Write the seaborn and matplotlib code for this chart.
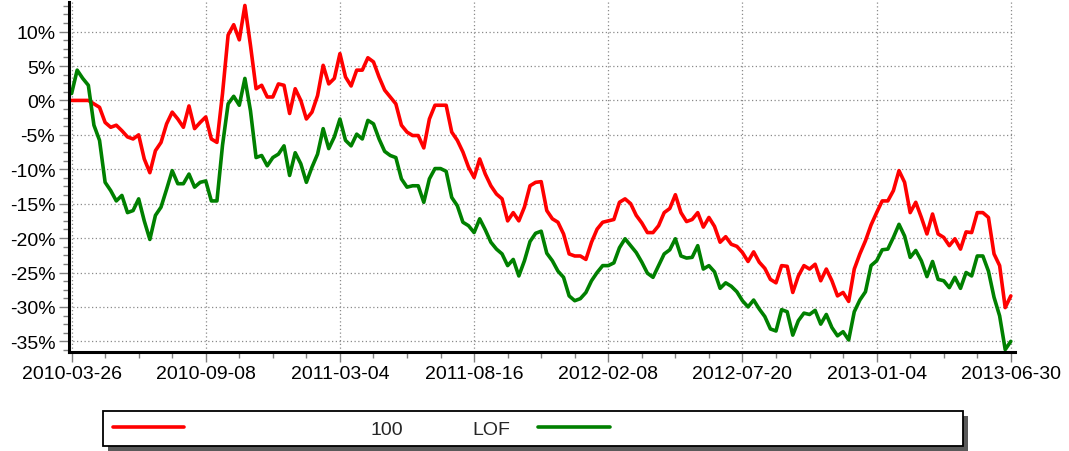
import matplotlib
matplotlib.use("Agg")
import matplotlib.pyplot as plt
import seaborn as sns
import pandas as pd
from matplotlib.patches import Rectangle
from matplotlib.ticker import MultipleLocator, FuncFormatter

# Datumetiketter, en var 24:e punkt
tick_labels = ["2010-03-26", "2010-09-08", "2011-03-04", "2011-08-16",
               "2012-02-08", "2012-07-20", "2013-01-04", "2013-06-30"]
step = 24

# Avkastning i procent
red_100 = [
    0, 0, 0, 0, -0.5, -1.0, -3.2, -3.9, -3.6, -4.4,
    -5.3, -5.6, -5.0, -8.5, -10.5, -7.3, -6.1, -3.4, -1.7, -2.7,
    -3.9, -0.8, -4.1, -3.2, -2.4, -5.6, -6.1, 1.0, 9.5, 11.0,
    8.8, 13.8, 8.0, 1.7, 2.2, 0.5, 0.5, 2.4, 2.2, -1.9,
    1.7, 0.0, -2.7, -1.7, 0.7, 5.1, 2.4, 3.2, 6.8, 3.4,
    2.1, 4.4, 4.4, 6.2, 5.6, 3.4, 1.5, 0.5, -0.5, -3.6,
    -4.6, -5.1, -5.1, -6.9, -2.7, -0.7, -0.7, -0.7, -4.6, -5.8,
    -7.5, -9.7, -11.2, -8.5, -10.7, -12.4, -13.6, -14.3, -17.5, -16.3,
    -17.5, -15.5, -12.4, -11.9, -11.8, -16.0, -17.2, -17.7, -19.4, -22.3,
    -22.6, -22.6, -23.1, -20.6, -18.7, -17.7, -17.5, -17.3, -14.8, -14.3,
    -15.0, -16.7, -17.8, -19.2, -19.2, -18.2, -16.3, -15.7, -13.7, -16.3,
    -17.6, -17.3, -16.3, -18.4, -17.0, -18.3, -20.6, -19.8, -20.9, -21.2,
    -22.1, -23.4, -22.0, -23.5, -24.4, -26.0, -26.5, -24.0, -24.1, -27.9,
    -25.5, -24.0, -24.5, -23.8, -26.2, -24.5, -26.2, -28.4, -27.9, -29.2,
    -24.5, -22.3, -20.4, -18.1, -16.3, -14.6, -14.6, -13.1, -10.2, -11.9,
    -16.3, -14.8, -17.0, -19.4, -16.5, -19.4, -19.9, -21.1, -20.1, -21.6,
    -19.1, -19.2, -16.3, -16.3, -17.0, -22.3, -24.0, -30.1, -28.4,
]

green_lof = [
    1.0, 4.4, 3.2, 2.2, -3.6, -5.8, -11.9, -13.1, -14.6, -13.8,
    -16.3, -16.0, -14.3, -17.5, -20.2, -16.7, -15.5, -12.9, -10.2, -12.1,
    -12.1, -10.7, -12.6, -11.9, -11.7, -14.6, -14.6, -6.5, -0.5, 0.6,
    -0.7, 3.2, -1.5, -8.3, -8.0, -9.5, -8.3, -7.8, -6.6, -10.9,
    -7.6, -9.2, -11.9, -9.7, -7.8, -4.1, -7.0, -5.3, -2.7, -5.8,
    -6.6, -4.9, -5.6, -2.9, -3.4, -5.6, -7.4, -8.0, -8.3, -11.4,
    -12.6, -12.4, -12.4, -14.8, -11.4, -9.9, -9.9, -10.3, -14.1, -15.3,
    -17.7, -18.2, -19.2, -17.2, -18.8, -20.6, -21.6, -22.3, -24.0, -23.1,
    -25.5, -23.3, -20.5, -19.3, -19.0, -22.2, -23.3, -24.8, -25.7, -28.4,
    -29.1, -28.8, -27.9, -26.2, -25.0, -24.0, -24.0, -23.6, -21.4, -20.1,
    -21.1, -22.1, -23.5, -25.1, -25.7, -24.0, -22.3, -21.7, -20.1, -22.6,
    -22.9, -22.8, -21.1, -24.5, -24.0, -24.9, -27.3, -26.5, -27.0, -27.8,
    -29.1, -30.0, -29.0, -30.3, -31.4, -33.2, -33.5, -30.4, -30.7, -34.1,
    -32.0, -30.9, -31.1, -30.5, -32.5, -31.1, -33.0, -34.2, -33.6, -34.8,
    -30.7, -29.0, -27.8, -24.0, -23.3, -21.7, -21.6, -19.9, -18.0, -19.7,
    -22.8, -21.8, -23.3, -25.6, -23.4, -26.0, -26.2, -27.2, -25.7, -27.3,
    -25.0, -25.5, -22.6, -22.6, -24.8, -28.6, -31.3, -36.2, -35.0,
]

n = len(red_100)
df = pd.DataFrame({
    "idx": list(range(n)) * 2,
    "value": red_100 + green_lof,
    "series": ["100"] * n + ["LOF"] * n,
})

sns.set_style("white")
plt.rcParams["font.family"] = ["Liberation Sans", "DejaVu Sans"]
plt.rcParams["axes.unicode_minus"] = False

W, H = 1069, 452
fig = plt.figure(figsize=(W / 100, H / 100), dpi=100)
ax = fig.add_axes([68.5 / W, 1 - 353 / H, (1015 - 68.5) / W, 350 / H])

sns.lineplot(data=df, x="idx", y="value", hue="series",
             palette={"100": "#ff0000", "LOF": "#008000"},
             linewidth=2.6, legend=False, ax=ax)

ax.set_xlim(-0.55, 168.75)
ax.set_ylim(-36.55, 14.3)
ax.set_xlabel("")
ax.set_ylabel("")

ax.set_xticks(range(0, n, step))
ax.set_xticklabels(tick_labels)
ax.xaxis.set_minor_locator(MultipleLocator(6))
ax.set_yticks(range(-35, 11, 5))
ax.yaxis.set_minor_locator(MultipleLocator(1.25))
ax.yaxis.set_major_formatter(FuncFormatter(lambda v, p: f"{v:.0f}%"))

ax.tick_params(which="major", direction="out", length=7, width=1,
               color="#808080", labelsize=14, pad=2.5, labelcolor="black")
ax.tick_params(which="minor", direction="out", length=4, width=1,
               color="#808080")
ax.tick_params(axis="x", which="both", bottom=True)
ax.tick_params(axis="y", which="both", left=True)

ax.grid(True, which="major", color="#8a8a8a", linewidth=0.9,
        linestyle=(0, (1, 2)))
ax.set_axisbelow(True)

for side in ["top", "right"]:
    ax.spines[side].set_visible(False)
for side in ["left", "bottom"]:
    ax.spines[side].set_color("black")
    ax.spines[side].set_linewidth(2.2)

# Legendruta med skugga
bx0, bx1, by0, by1 = 103, 963, 412, 446.5
shadow = Rectangle(((bx0 + 5) / W, 1 - (by1 + 5) / H), (bx1 - bx0) / W,
                   (by1 - by0) / H, transform=fig.transFigure,
                   facecolor="#5a5a5a", edgecolor="none", zorder=1)
frame = Rectangle((bx0 / W, 1 - by1 / H), (bx1 - bx0) / W, (by1 - by0) / H,
                  transform=fig.transFigure, facecolor="white",
                  edgecolor="black", linewidth=1.3, zorder=2)
fig.add_artist(shadow)
fig.add_artist(frame)

ly = 1 - 430 / H
leg1 = fig.legend(handles=[ax.lines[0]], labels=["100"], loc="center left",
                  bbox_to_anchor=(113 / W, ly), frameon=False, fontsize=14,
                  handlelength=3.65, handletextpad=9.6, borderpad=0,
                  borderaxespad=0)
leg2 = fig.legend(handles=[ax.lines[1]], labels=["LOF"], loc="center left",
                  bbox_to_anchor=(472 / W, ly), frameon=False, fontsize=14,
                  markerfirst=False, handlelength=3.67, handletextpad=1.46,
                  borderpad=0, borderaxespad=0)
leg1.set_zorder(5)
leg2.set_zorder(5)

fig.savefig("out.png", dpi=100)
